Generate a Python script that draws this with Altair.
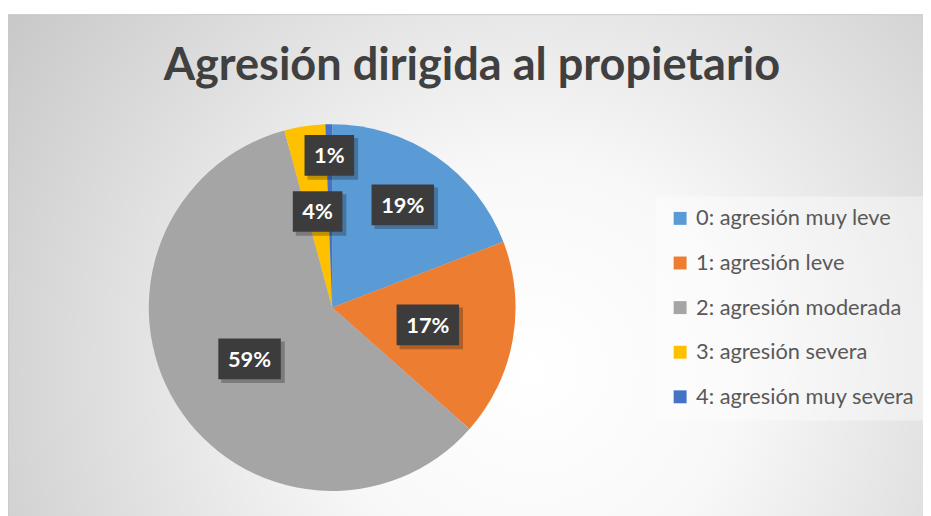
import math
import altair as alt
import pandas as pd

# ---- data ----
categories = [
    "0: agresión muy leve",
    "1: agresión leve",
    "2: agresión moderada",
    "3: agresión severa",
    "4: agresión muy severa",
]
counts = [32, 29, 99, 6, 1]
colors = ["#5B9BD5", "#ED7D31", "#A5A5A5", "#FFC000", "#4472C4"]
title_text = "Agresión dirigida al propietario"

df = pd.DataFrame({"categoria": categories, "n": counts, "orden": list(range(len(categories)))})
one = pd.DataFrame({"k": [0]})

W, H = 923, 508
CX, CY, R = 327, 300, 185
FONT = "Lato"

gradient = {
    "gradient": "radial",
    "x1": 0.55, "y1": 0.58, "r1": 0,
    "x2": 0.55, "y2": 0.58, "r2": 0.72,
    "stops": [
        {"offset": 0, "color": "#ffffff"},
        {"offset": 0.3, "color": "#f8f8f8"},
        {"offset": 1, "color": "#c2c2c2"},
    ],
}

bg = alt.Chart(one).mark_rect(fill=gradient, stroke="#c9c9c9", strokeWidth=1).encode(
    x=alt.value(0.5), x2=alt.value(W + 40), y=alt.value(4.5), y2=alt.value(H + 60)
)

legend_panel = alt.Chart(one).mark_rect(fill="white", opacity=0.4).encode(
    x=alt.value(654), x2=alt.value(W), y=alt.value(188), y2=alt.value(414)
)

title = alt.Chart(one).mark_text(
    font=FONT, fontWeight="bold", fontSize=45.5, color="#404040", align="center", baseline="alphabetic"
).encode(text=alt.value(title_text), x=alt.value(468), y=alt.value(70))

shadows = [
    alt.Chart(one).mark_circle(color="black", opacity=0.035, size=math.pi * (R + k) ** 2).encode(
        x=alt.value(CX + 3), y=alt.value(CY + 4)
    )
    for k in (1, 3, 5, 7)
]

pie = alt.Chart(df).mark_arc(radius=R).encode(
    theta=alt.Theta("n:Q", stack=True),
    color=alt.Color(
        "categoria:N",
        scale=alt.Scale(domain=categories, range=colors),
        legend=alt.Legend(
            orient="none", legendX=667, legendY=199, title=None,
            symbolType="square", symbolSize=170, symbolStrokeWidth=0,
            labelFontSize=22, labelFont=FONT, labelColor="#595959",
            rowPadding=23, labelOffset=5, padding=0, labelLimit=400,
        ),
    ),
    order=alt.Order("orden:Q"),
    x=alt.value(CX),
    y=alt.value(CY),
)

lab = (
    alt.Chart(df)
    .transform_joinaggregate(total="sum(n)")
    .transform_window(cum="sum(n)", sort=[alt.SortField("orden", order="ascending")], frame=[None, 0])
    .transform_calculate(
        frac="datum.n / datum.total",
        mid="(datum.cum - datum.n / 2) / datum.total * 2 * PI",
    )
    .transform_calculate(
        rr=f"datum.frac < 0.02 ? {0.83 * R} : (datum.frac < 0.3 && datum.frac > 0.18 ? {0.68 * R} : {0.53 * R})",
        label="format(datum.frac, '.0%')",
    )
    .transform_calculate(
        lx=f"{CX} + datum.rr * sin(datum.mid)",
        ly=f"{CY} - datum.rr * cos(datum.mid)",
        hw="length(datum.label) > 2 ? 31.5 : 25",
    )
    .transform_calculate(
        bx1="datum.lx - datum.hw",
        bx2="datum.lx + datum.hw",
        by1="datum.ly - 20.5",
        by2="datum.ly + 20.5",
        sx1="datum.lx - datum.hw + 3",
        sx2="datum.lx + datum.hw + 4",
        sy1="datum.ly - 20.5 + 3",
        sy2="datum.ly + 20.5 + 4",
    )
)

box_shadow = lab.mark_rect(fill="black", opacity=0.25).encode(
    x=alt.X("sx1:Q", scale=None), x2="sx2:Q", y=alt.Y("sy1:Q", scale=None), y2="sy2:Q"
)
boxes = lab.mark_rect(fill="#3c3c3c").encode(
    x=alt.X("bx1:Q", scale=None), x2="bx2:Q", y=alt.Y("by1:Q", scale=None), y2="by2:Q"
)
texts = lab.mark_text(
    font=FONT, fontWeight="bold", fontSize=22, color="white", align="center", baseline="middle", dy=1
).encode(x=alt.X("lx:Q", scale=None), y=alt.Y("ly:Q", scale=None), text="label:N")

chart = (
    alt.layer(bg, legend_panel, title, *shadows, pie, box_shadow, boxes, texts)
    .properties(width=W, height=H, autosize=alt.AutoSizeParams(type="none"), padding=0, background="white")
    .configure_view(stroke=None)
)

chart.save("out.html", embed_options={"renderer": "svg", "actions": False})
